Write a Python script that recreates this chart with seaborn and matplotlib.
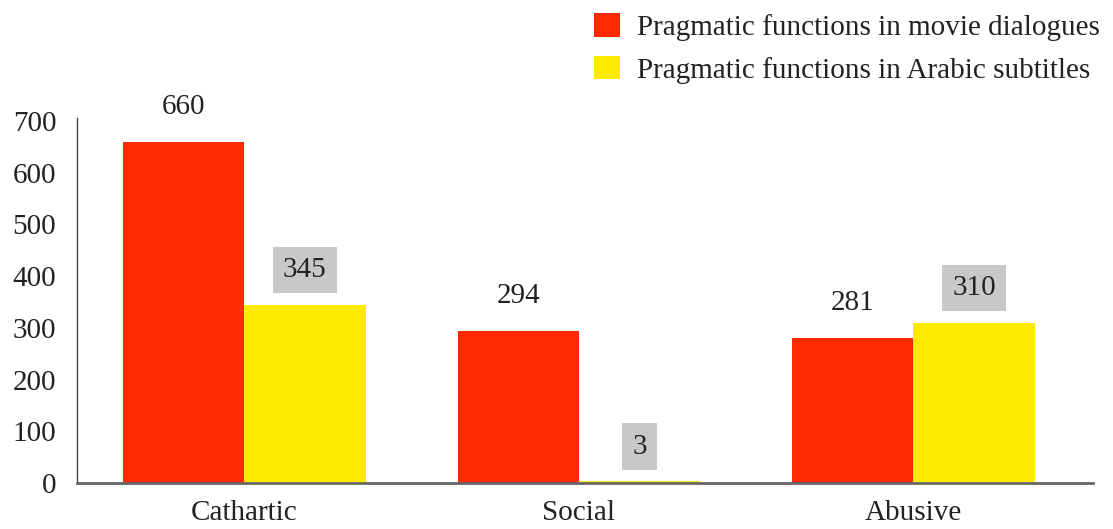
import matplotlib
matplotlib.use("Agg")
import matplotlib.pyplot as plt
import seaborn as sns
import pandas as pd

categories = ["Cathartic", "Social", "Abusive"]
series_names = ["Pragmatic functions in movie dialogues",
                "Pragmatic functions in Arabic subtitles"]
movie_dialogues = [660, 294, 281]
arabic_subtitles = [345, 3, 310]
y_ticks = [0, 100, 200, 300, 400, 500, 600, 700]

colors = ["#FF2A00", "#FFEB00"]
label_box = ["none", "#C8C8CA"]

sns.set_theme(style="white")
plt.rcParams["font.family"] = ["Liberation Serif", "DejaVu Serif"]
plt.rcParams["text.color"] = "#222222"

df = pd.DataFrame({
    "category": categories * 2,
    "series": [series_names[0]] * 3 + [series_names[1]] * 3,
    "value": movie_dialogues + arabic_subtitles,
})

fig = plt.figure(figsize=(11.13, 5.29), dpi=100)
ax = fig.add_axes([0.0692, 0.087, 0.9128, 0.690])

sns.barplot(data=df, x="category", y="value", hue="series", order=categories,
            hue_order=series_names, palette=colors, width=0.725, gap=0,
            saturation=1, linewidth=0, errorbar=None, ax=ax)

ax.set_xlim(-0.5, 2.537)
ax.set_ylim(0, 706)
ax.set_yticks(y_ticks)
ax.set_xlabel("")
ax.set_ylabel("")
ax.tick_params(axis="y", length=0, pad=15, labelsize=21, labelcolor="#222222")
ax.tick_params(axis="x", length=0, pad=12, labelsize=21, labelcolor="#222222")

for side in ("top", "right"):
    ax.spines[side].set_visible(False)
ax.spines["left"].set_color("#444444")
ax.spines["left"].set_linewidth(1.0)
ax.spines["bottom"].set_color("#666666")
ax.spines["bottom"].set_linewidth(2.0)

# value labels above each bar
for container, values, face in zip(ax.containers, [movie_dialogues, arabic_subtitles], label_box):
    for bar, v in zip(container, values):
        cx = bar.get_x() + bar.get_width() / 2
        bbox = None
        if face != "none":
            bbox = dict(boxstyle="square,pad=0.35", facecolor=face, edgecolor="none")
        ax.annotate(f"{v}", xy=(cx, v), xytext=(0, 25), textcoords="offset points",
                    ha="center", va="center", fontsize=21, color="#222222", bbox=bbox)

handles, labels = ax.get_legend_handles_labels()
ax.get_legend().remove()
fig.legend(handles, labels, loc="upper right", bbox_to_anchor=(1.0, 1.0),
           frameon=False, fontsize=21, handlelength=0.87, handleheight=0.87,
           handletextpad=0.6, labelspacing=0.5, borderaxespad=0.05)

fig.savefig("out.png", dpi=100)
